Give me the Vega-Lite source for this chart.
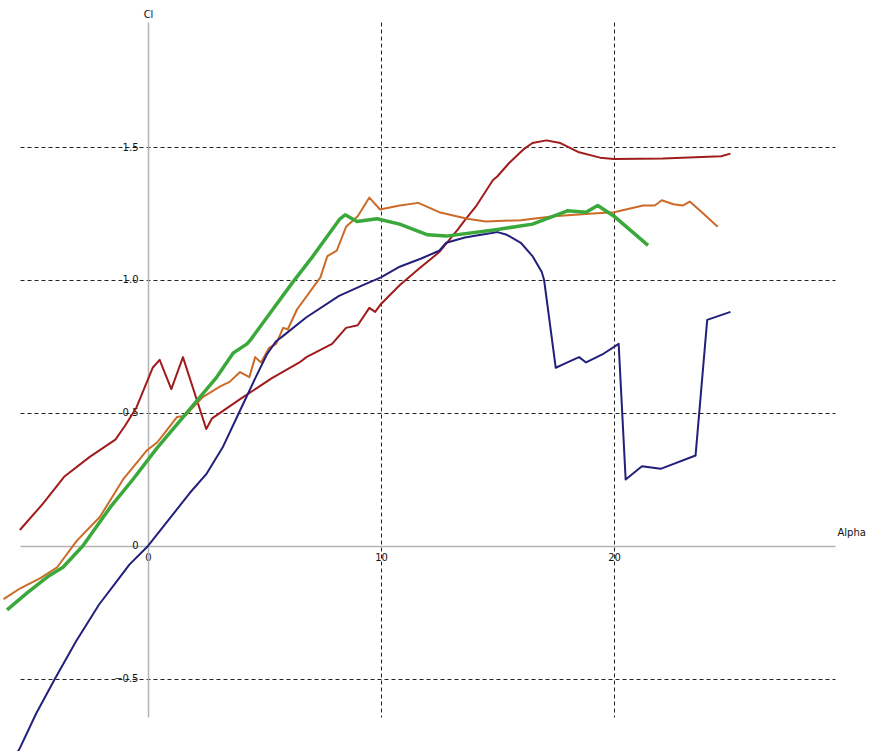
{
  "$schema": "https://vega.github.io/schema/vega-lite/v6.json",
  "width": 815,
  "height": 695,
  "autosize": {"type": "none"},
  "padding": {"left": 20, "top": 22, "right": 35, "bottom": 34},
  "background": "white",
  "config": {"view": {"stroke": null}, "font": "DejaVu Sans"},
  "data": {"values": [
    {"s": "A", "alpha": -5.5, "cl": 0.06},
    {"s": "A", "alpha": -4.5, "cl": 0.16},
    {"s": "A", "alpha": -3.6, "cl": 0.26},
    {"s": "A", "alpha": -2.5, "cl": 0.335},
    {"s": "A", "alpha": -1.4, "cl": 0.4},
    {"s": "A", "alpha": -1.0, "cl": 0.45},
    {"s": "A", "alpha": -0.5, "cl": 0.52},
    {"s": "A", "alpha": 0.2, "cl": 0.67},
    {"s": "A", "alpha": 0.5, "cl": 0.7},
    {"s": "A", "alpha": 1.0, "cl": 0.59},
    {"s": "A", "alpha": 1.5, "cl": 0.71},
    {"s": "A", "alpha": 2.5, "cl": 0.44},
    {"s": "A", "alpha": 2.75, "cl": 0.48},
    {"s": "A", "alpha": 4.0, "cl": 0.555},
    {"s": "A", "alpha": 5.3, "cl": 0.63},
    {"s": "A", "alpha": 6.5, "cl": 0.69},
    {"s": "A", "alpha": 6.8, "cl": 0.71},
    {"s": "A", "alpha": 7.9, "cl": 0.76},
    {"s": "A", "alpha": 8.5, "cl": 0.82},
    {"s": "A", "alpha": 9.0, "cl": 0.83},
    {"s": "A", "alpha": 9.5, "cl": 0.895},
    {"s": "A", "alpha": 9.75, "cl": 0.88},
    {"s": "A", "alpha": 10.0, "cl": 0.91},
    {"s": "A", "alpha": 10.8, "cl": 0.98},
    {"s": "A", "alpha": 11.6, "cl": 1.04},
    {"s": "A", "alpha": 12.5, "cl": 1.105},
    {"s": "A", "alpha": 13.3, "cl": 1.19},
    {"s": "A", "alpha": 13.6, "cl": 1.225},
    {"s": "A", "alpha": 14.1, "cl": 1.28},
    {"s": "A", "alpha": 14.8, "cl": 1.375},
    {"s": "A", "alpha": 15.0, "cl": 1.39},
    {"s": "A", "alpha": 15.5, "cl": 1.44},
    {"s": "A", "alpha": 16.1, "cl": 1.49},
    {"s": "A", "alpha": 16.5, "cl": 1.515},
    {"s": "A", "alpha": 17.1, "cl": 1.525},
    {"s": "A", "alpha": 17.7, "cl": 1.515},
    {"s": "A", "alpha": 18.5, "cl": 1.48},
    {"s": "A", "alpha": 19.4, "cl": 1.46},
    {"s": "A", "alpha": 20.0, "cl": 1.455},
    {"s": "A", "alpha": 22.1, "cl": 1.457},
    {"s": "A", "alpha": 24.6, "cl": 1.465},
    {"s": "A", "alpha": 25.0, "cl": 1.475},

    {"s": "B", "alpha": -6.2, "cl": -0.2},
    {"s": "B", "alpha": -5.5, "cl": -0.16},
    {"s": "B", "alpha": -4.6, "cl": -0.12},
    {"s": "B", "alpha": -3.9, "cl": -0.08},
    {"s": "B", "alpha": -3.05, "cl": 0.02},
    {"s": "B", "alpha": -2.06, "cl": 0.11},
    {"s": "B", "alpha": -1.07, "cl": 0.25},
    {"s": "B", "alpha": -0.04, "cl": 0.36},
    {"s": "B", "alpha": 0.4, "cl": 0.39},
    {"s": "B", "alpha": 0.8, "cl": 0.435},
    {"s": "B", "alpha": 1.25, "cl": 0.485},
    {"s": "B", "alpha": 1.6, "cl": 0.49},
    {"s": "B", "alpha": 2.35, "cl": 0.56},
    {"s": "B", "alpha": 3.1, "cl": 0.6},
    {"s": "B", "alpha": 3.5, "cl": 0.617},
    {"s": "B", "alpha": 3.95, "cl": 0.654},
    {"s": "B", "alpha": 4.35, "cl": 0.635},
    {"s": "B", "alpha": 4.6, "cl": 0.71},
    {"s": "B", "alpha": 4.85, "cl": 0.69},
    {"s": "B", "alpha": 5.2, "cl": 0.745},
    {"s": "B", "alpha": 5.5, "cl": 0.76},
    {"s": "B", "alpha": 5.8, "cl": 0.82},
    {"s": "B", "alpha": 6.0, "cl": 0.815},
    {"s": "B", "alpha": 6.4, "cl": 0.89},
    {"s": "B", "alpha": 7.4, "cl": 1.01},
    {"s": "B", "alpha": 7.7, "cl": 1.09},
    {"s": "B", "alpha": 8.1, "cl": 1.11},
    {"s": "B", "alpha": 8.5, "cl": 1.2},
    {"s": "B", "alpha": 9.0, "cl": 1.24},
    {"s": "B", "alpha": 9.5, "cl": 1.31},
    {"s": "B", "alpha": 9.96, "cl": 1.265},
    {"s": "B", "alpha": 10.8, "cl": 1.28},
    {"s": "B", "alpha": 11.6, "cl": 1.29},
    {"s": "B", "alpha": 12.5, "cl": 1.255},
    {"s": "B", "alpha": 13.7, "cl": 1.23},
    {"s": "B", "alpha": 14.5, "cl": 1.22},
    {"s": "B", "alpha": 16.0, "cl": 1.225},
    {"s": "B", "alpha": 17.4, "cl": 1.24},
    {"s": "B", "alpha": 19.1, "cl": 1.25},
    {"s": "B", "alpha": 20.0, "cl": 1.255},
    {"s": "B", "alpha": 21.25, "cl": 1.28},
    {"s": "B", "alpha": 21.75, "cl": 1.28},
    {"s": "B", "alpha": 22.05, "cl": 1.3},
    {"s": "B", "alpha": 22.55, "cl": 1.285},
    {"s": "B", "alpha": 22.95, "cl": 1.28},
    {"s": "B", "alpha": 23.25, "cl": 1.295},
    {"s": "B", "alpha": 23.7, "cl": 1.26},
    {"s": "B", "alpha": 24.45, "cl": 1.2},

    {"s": "C", "alpha": -6.05, "cl": -0.24},
    {"s": "C", "alpha": -5.2, "cl": -0.177},
    {"s": "C", "alpha": -4.3, "cl": -0.115},
    {"s": "C", "alpha": -3.65, "cl": -0.08},
    {"s": "C", "alpha": -2.8, "cl": 0.0},
    {"s": "C", "alpha": -1.6, "cl": 0.148},
    {"s": "C", "alpha": -0.65, "cl": 0.25},
    {"s": "C", "alpha": 0.4, "cl": 0.37},
    {"s": "C", "alpha": 1.37, "cl": 0.47},
    {"s": "C", "alpha": 2.23, "cl": 0.56},
    {"s": "C", "alpha": 2.96, "cl": 0.636},
    {"s": "C", "alpha": 3.65, "cl": 0.725},
    {"s": "C", "alpha": 4.25, "cl": 0.76},
    {"s": "C", "alpha": 4.4, "cl": 0.775},
    {"s": "C", "alpha": 5.36, "cl": 0.89},
    {"s": "C", "alpha": 6.2, "cl": 0.99},
    {"s": "C", "alpha": 7.08, "cl": 1.09},
    {"s": "C", "alpha": 8.24, "cl": 1.23},
    {"s": "C", "alpha": 8.46, "cl": 1.245},
    {"s": "C", "alpha": 8.97, "cl": 1.22},
    {"s": "C", "alpha": 9.83, "cl": 1.23},
    {"s": "C", "alpha": 10.8, "cl": 1.21},
    {"s": "C", "alpha": 12.0, "cl": 1.17},
    {"s": "C", "alpha": 12.8, "cl": 1.165},
    {"s": "C", "alpha": 15.0, "cl": 1.19},
    {"s": "C", "alpha": 16.5, "cl": 1.21},
    {"s": "C", "alpha": 18.0, "cl": 1.26},
    {"s": "C", "alpha": 18.8, "cl": 1.255},
    {"s": "C", "alpha": 19.3, "cl": 1.28},
    {"s": "C", "alpha": 20.0, "cl": 1.24},
    {"s": "C", "alpha": 21.46, "cl": 1.13},

    {"s": "D", "alpha": -6.2, "cl": -0.87},
    {"s": "D", "alpha": -5.5, "cl": -0.76},
    {"s": "D", "alpha": -4.8, "cl": -0.63},
    {"s": "D", "alpha": -4.0, "cl": -0.5},
    {"s": "D", "alpha": -3.1, "cl": -0.36},
    {"s": "D", "alpha": -2.1, "cl": -0.22},
    {"s": "D", "alpha": -1.4, "cl": -0.14},
    {"s": "D", "alpha": -0.8, "cl": -0.07},
    {"s": "D", "alpha": 0.0, "cl": 0.0},
    {"s": "D", "alpha": 0.9, "cl": 0.1},
    {"s": "D", "alpha": 1.8, "cl": 0.2},
    {"s": "D", "alpha": 2.5, "cl": 0.27},
    {"s": "D", "alpha": 3.2, "cl": 0.37},
    {"s": "D", "alpha": 3.9, "cl": 0.5},
    {"s": "D", "alpha": 4.6, "cl": 0.63},
    {"s": "D", "alpha": 5.1, "cl": 0.72},
    {"s": "D", "alpha": 5.5, "cl": 0.77},
    {"s": "D", "alpha": 5.8, "cl": 0.79},
    {"s": "D", "alpha": 6.8, "cl": 0.86},
    {"s": "D", "alpha": 8.2, "cl": 0.94},
    {"s": "D", "alpha": 9.2, "cl": 0.98},
    {"s": "D", "alpha": 10.0, "cl": 1.01},
    {"s": "D", "alpha": 10.8, "cl": 1.05},
    {"s": "D", "alpha": 11.7, "cl": 1.08},
    {"s": "D", "alpha": 12.5, "cl": 1.11},
    {"s": "D", "alpha": 12.8, "cl": 1.14},
    {"s": "D", "alpha": 13.6, "cl": 1.16},
    {"s": "D", "alpha": 14.3, "cl": 1.17},
    {"s": "D", "alpha": 15.0, "cl": 1.18},
    {"s": "D", "alpha": 15.4, "cl": 1.17},
    {"s": "D", "alpha": 16.0, "cl": 1.14},
    {"s": "D", "alpha": 16.5, "cl": 1.09},
    {"s": "D", "alpha": 16.9, "cl": 1.03},
    {"s": "D", "alpha": 17.0, "cl": 1.0},
    {"s": "D", "alpha": 17.5, "cl": 0.67},
    {"s": "D", "alpha": 18.0, "cl": 0.69},
    {"s": "D", "alpha": 18.5, "cl": 0.71},
    {"s": "D", "alpha": 18.8, "cl": 0.69},
    {"s": "D", "alpha": 19.5, "cl": 0.72},
    {"s": "D", "alpha": 20.2, "cl": 0.76},
    {"s": "D", "alpha": 20.5, "cl": 0.25},
    {"s": "D", "alpha": 21.2, "cl": 0.3},
    {"s": "D", "alpha": 22.0, "cl": 0.29},
    {"s": "D", "alpha": 23.5, "cl": 0.34},
    {"s": "D", "alpha": 24.0, "cl": 0.85},
    {"s": "D", "alpha": 25.0, "cl": 0.88}
  ]},
  "mark": {"type": "line", "clip": false, "strokeJoin": "round"},
  "encoding": {
    "x": {
      "field": "alpha", "type": "quantitative",
      "scale": {"domain": [-5.494, 29.485], "nice": false, "zero": false},
      "axis": {
        "title": "Alpha", "values": [0, 10, 20], "offset": -171,
        "domainColor": "#b4b4b4", "domainWidth": 1.5, "ticks": false,
        "labelPadding": 6, "labelFontSize": 10, "labelColor": "#111", "labelFlush": false,
        "grid": true, "gridColor": "#222", "gridDash": [4, 3],
        "gridOpacity": {"condition": {"test": "datum.value === 0", "value": 0}, "value": 1},
        "titleX": 817, "titleY": -14, "titleAlign": "left", "titleBaseline": "middle",
        "titleFontWeight": "normal", "titleFontSize": 10, "titleColor": "#111", "titleAnchor": null
      }
    },
    "y": {
      "field": "cl", "type": "quantitative",
      "scale": {"domain": [-0.643, 1.97], "nice": false, "zero": false},
      "axis": {
        "title": "Cl", "values": [-0.5, 0, 0.5, 1, 1.5], "offset": -128,
        "labelExpr": "datum.value === 0 ? '0' : format(datum.value, '.1f')",
        "domainColor": "#b4b4b4", "domainWidth": 1.5, "ticks": false,
        "labelPadding": 10, "labelFontSize": 10, "labelColor": "#111", "labelFlush": false,
        "grid": true, "gridColor": "#222", "gridDash": [4, 3],
        "gridOpacity": {"condition": {"test": "datum.value === 0", "value": 0}, "value": 1},
        "titleX": 0, "titleY": -8, "titleAngle": 0, "titleAlign": "center", "titleBaseline": "middle",
        "titleFontWeight": "normal", "titleFontSize": 10, "titleColor": "#111", "titleAnchor": null
      }
    },
    "color": {
      "field": "s", "type": "nominal",
      "scale": {"domain": ["A", "B", "C", "D"], "range": ["#a01c1c", "#cc6a28", "#3aa83a", "#22207a"]},
      "legend": null
    },
    "strokeWidth": {
      "field": "s", "type": "nominal",
      "scale": {"type": "ordinal", "domain": ["A", "B", "C", "D"], "range": [2, 2, 3.5, 2]},
      "legend": null
    }
  }
}
